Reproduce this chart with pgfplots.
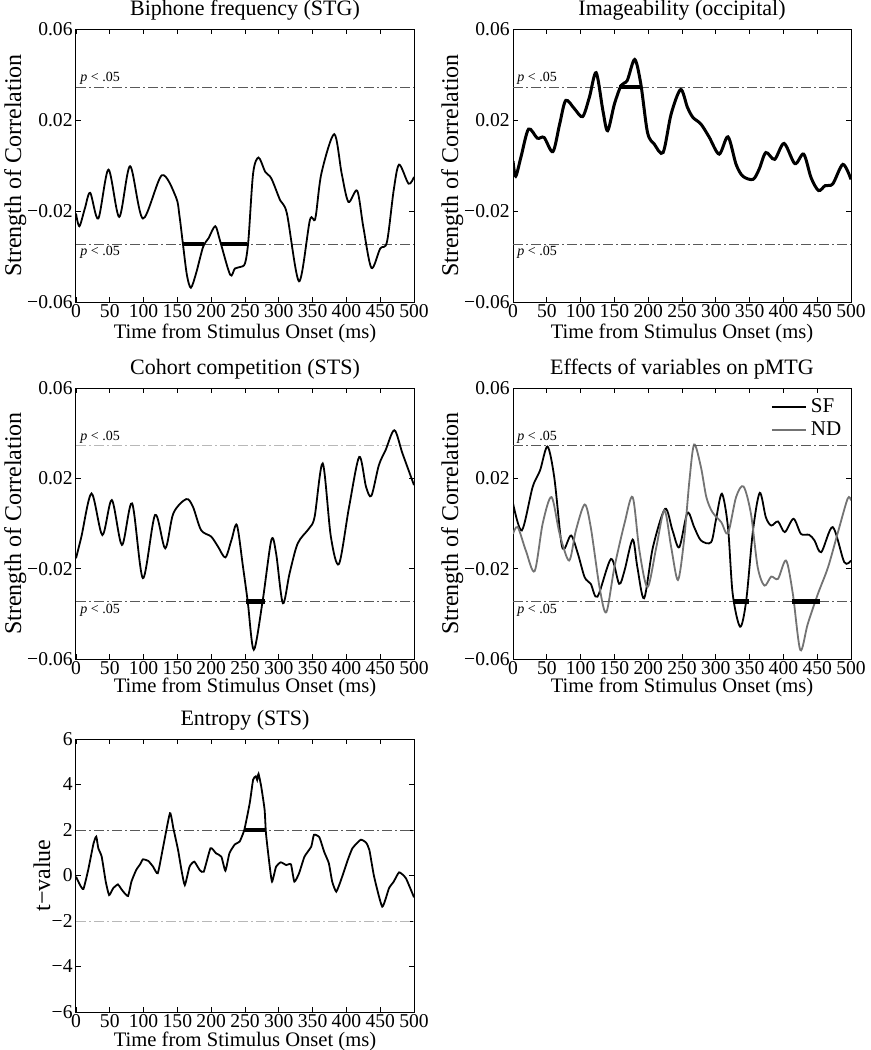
\documentclass[border=0pt]{standalone}
\usepackage{fontspec}
\setmainfont{Liberation Serif}
\usepackage{pgfplots}
\pgfplotsset{compat=1.18}

\definecolor{thrdark}{gray}{0.35}
\definecolor{thrlight}{gray}{0.72}
\definecolor{ndgray}{gray}{0.45}

\pgfplotsset{
  every axis title shift=0pt,
  panel/.style={
    scale only axis, width=169pt, height=136.5pt,
    xmin=0, xmax=500, ymin=-0.06, ymax=0.06,
    scaled y ticks=false, scaled x ticks=false,
    xtick={0,50,...,500},
    xticklabels={0,50,100,150,200,250,300,350,400,450,500},
    ytick={-0.06,-0.02,0.02,0.06},
    yticklabels={−0.06,−0.02,0.02,0.06},
    tick align=inside, major tick length=2.5pt,
    tick style={black, line width=0.4pt},
    axis line style={line width=0.5pt},
    ticklabel style={font=\fontsize{9.8}{11}\selectfont},
    xticklabel style={inner sep=1pt},
    yticklabel style={inner sep=1.5pt},
    title style={font=\fontsize{11}{12}\selectfont, at={(axis description cs:0.5,1.07)}, anchor=center, yshift=0pt},
    xlabel={Time from Stimulus Onset (ms)},
    ylabel={Strength of Correlation},
    xlabel style={font=\fontsize{10.3}{12}\selectfont, at={(axis description cs:0.5,-0.1136)}, anchor=center},
    ylabel style={font=\fontsize{12}{13}\selectfont, at={(axis description cs:-0.18,0.5)}, anchor=center},
  },
  thr/.style={forget plot, line width=0.5pt, dash pattern=on 5pt off 1.6pt on 0.8pt off 1.6pt},
  sig/.style={forget plot, line width=2.2pt, black},
  curve/.style={black, line width=0.9pt, smooth, tension=0.5},
}
\newcommand{\plabels}{%
  \node[font=\fontsize{7}{8}\selectfont, anchor=south west, inner sep=1pt, xshift=1pt] at (axis cs:0,0.0345) {\textit{p} < .05};
  \node[font=\fontsize{7}{8}\selectfont, anchor=north west, inner sep=1pt, xshift=1pt] at (axis cs:0,-0.0345) {\textit{p} < .05};
}

\begin{document}
\begin{tikzpicture}
\useasboundingbox (0,0) rectangle (435.5pt,-525pt);

% ---- Biphone frequency
\begin{axis}[panel, at={(38pt,-14.5pt)}, anchor=north west, title={Biphone frequency (STG)}]
\addplot[thr, thrdark] coordinates {(0,0.0345) (500,0.0345)};
\addplot[thr, thrdark] coordinates {(0,-0.0345) (500,-0.0345)};
\addplot[curve] coordinates {
(0,-0.0211) (5,-0.0267) (13,-0.019) (21,-0.012) (33,-0.0233) (48,-0.0018) (64,-0.0226) (80,-0.0003)
(99,-0.0233) (127,-0.0043) (148,-0.014) (153,-0.022) (158,-0.034) (164,-0.048) (170,-0.0537) (178,-0.047)
(188,-0.0358) (196,-0.032) (206,-0.0267) (213,-0.033) (228,-0.048) (235,-0.0453) (243,-0.0446) (250,-0.043)
(255,-0.033) (262,-0.0035) (270,0.0035) (280,-0.0028) (289,-0.0057) (302,-0.0153) (312,-0.0211) (330,-0.0509)
(346,-0.024) (354,-0.0233) (363,-0.0035) (382,0.0138) (393,-0.0035) (403,-0.016) (416,-0.0111) (425,-0.027)
(437,-0.045) (450,-0.0365) (460,-0.0336) (470,-0.0108) (478,0.0004) (492,-0.008) (500,-0.005)};
\addplot[sig] coordinates {(158,-0.0345) (189,-0.0345)};
\addplot[sig] coordinates {(214,-0.0345) (253,-0.0345)};
\plabels
\end{axis}

% ---- Imageability
\begin{axis}[panel, at={(256.5pt,-14.5pt)}, anchor=north west, title={Imageability (occipital)}]
\addplot[thr, thrdark] coordinates {(0,0.0345) (500,0.0345)};
\addplot[thr, thrdark] coordinates {(0,-0.0345) (500,-0.0345)};
\addplot[curve, line width=1.5pt] coordinates {
(0,0.002) (4,-0.0047) (12,0.004) (23,0.016) (36,0.012) (46,0.0123) (59,0.0061) (69,0.0182) (78,0.0286)
(91,0.0249) (103,0.0215) (113,0.030) (123,0.0408) (133,0.0241) (140,0.0153) (150,0.027) (160,0.0352)
(169,0.0374) (180,0.0466) (189,0.036) (199,0.0145) (209,0.0094) (222,0.0057) (234,0.0227) (248,0.0334)
(258,0.0256) (266,0.0212) (278,0.0182) (290,0.0126) (305,0.005) (318,0.0126) (330,0.0005) (340,-0.0047)
(355,-0.0061) (364,-0.0017) (374,0.0057) (387,0.0027) (401,0.0097) (417,0.0008) (430,0.005) (441,-0.0054)
(452,-0.011) (462,-0.0088) (473,-0.0081) (488,0.0005) (500,-0.0061)};
\addplot[sig] coordinates {(157,0.0345) (189,0.0345)};
\plabels
\end{axis}

% ---- Cohort competition
\begin{axis}[panel, at={(38pt,-194pt)}, anchor=north west, height=135.5pt, title={Cohort competition (STS)},
  xlabel style={at={(axis description cs:0.5,-0.106)}}]
\addplot[thr, thrlight] coordinates {(0,0.0345) (500,0.0345)};
\addplot[thr, thrdark] coordinates {(0,-0.0345) (500,-0.0345)};
\addplot[curve] coordinates {
(0,-0.0154) (8,-0.0058) (23,0.0133) (39,-0.0051) (53,0.0104) (68,-0.0095) (83,0.0089) (99,-0.0242)
(117,0.0038) (132,-0.011) (144,0.0045) (163,0.0108) (173,0.0074) (185,-0.0029) (200,-0.0058) (210,-0.0102)
(221,-0.015) (230,-0.0073) (238,-0.0007) (247,-0.0191) (254,-0.0345) (263,-0.0559) (276,-0.0345)
(289,-0.0073) (296,-0.0132) (306,-0.0353) (316,-0.022) (328,-0.0088) (345,-0.0021) (353,0.003)
(365,0.0266) (377,-0.0058) (389,-0.0179) (404,0.0074) (419,0.0295) (429,0.0163) (437,0.0123) (448,0.0258)
(458,0.0325) (471,0.0413) (483,0.031) (500,0.017)};
\addplot[sig] coordinates {(252,-0.0345) (279,-0.0345)};
\plabels
\end{axis}

% ---- pMTG
\begin{axis}[panel, at={(256.5pt,-194pt)}, anchor=north west, height=135.5pt, title={Effects of variables on pMTG},
  xlabel style={at={(axis description cs:0.5,-0.106)}},
  legend style={draw=none, fill=none, at={(0.99,0.985)}, anchor=north east,
    font=\fontsize{10.5}{11}\selectfont, row sep=-1pt, inner sep=1pt},
  legend cell align=left]
\addplot[curve] coordinates {
(0,0.009) (13,-0.0031) (29,0.0161) (40,0.0235) (51,0.0341) (61,0.0205) (71,-0.0075) (76,-0.0112)
(86,-0.0053) (96,-0.0134) (106,-0.0238) (115,-0.0267) (125,-0.0324) (145,-0.0157) (157,-0.0267)
(165,-0.0208) (177,-0.0071) (184,-0.0194) (194,-0.0331) (207,-0.0105) (225,0.0065) (236,-0.0031)
(246,-0.0105) (258,0.0047) (268,-0.0016) (278,-0.0075) (293,-0.0083) (300,0.0013) (309,0.0132)
(318,-0.0016) (325,-0.0312) (336,-0.0457) (345,-0.0341) (355,-0.0031) (365,0.0136) (374,0.0028)
(382,-0.0009) (392,0.0009) (402,-0.0038) (415,0.0021) (426,-0.0046) (438,-0.005) (446,-0.0075)
(456,-0.0127) (473,-0.0016) (490,-0.0171) (500,-0.0164)};
\addlegendentry{SF}
\addplot[curve, ndgray] coordinates {
(0,-0.0046) (7,-0.0016) (19,-0.012) (32,-0.0211) (44,0.0001) (57,0.0117) (69,-0.0046) (83,-0.0164)
(93,-0.0031) (106,0.0084) (115,-0.0016) (128,-0.0282) (138,-0.0393) (150,-0.0194) (165,0.0001)
(177,0.0117) (187,-0.012) (199,-0.0282) (212,-0.0105) (224,0.0058) (234,-0.0105) (244,-0.025)
(253,-0.0075) (261,0.0191) (268,0.035) (278,0.025) (286,0.0117) (295,0.005) (308,0.0006) (318,-0.0043)
(330,0.0117) (341,0.0164) (352,0.0043) (362,-0.0194) (372,-0.0275) (382,-0.0235) (392,-0.0245)
(404,-0.0164) (414,-0.0312) (425,-0.056) (436,-0.0445) (451,-0.0312) (466,-0.0194) (480,-0.0046)
(495,0.011) (500,0.0102)};
\addlegendentry{ND}
\addplot[thr, thrdark] coordinates {(0,0.0345) (500,0.0345)};
\addplot[thr, thrdark] coordinates {(0,-0.0345) (500,-0.0345)};
\addplot[sig] coordinates {(325,-0.0345) (349,-0.0345)};
\addplot[sig] coordinates {(412,-0.0345) (454,-0.0345)};
\plabels
\end{axis}

% ---- Entropy
\begin{axis}[panel, at={(38pt,-369.5pt)}, anchor=north west, title={Entropy (STS)},
  ymin=-6, ymax=6, ytick={-6,-4,-2,0,2,4,6}, yticklabels={−6,−4,−2,0,2,4,6},
  ylabel={t−value}, ylabel style={at={(axis description cs:-0.1006,0.5)}},
  xlabel style={at={(axis description cs:0.5,-0.106)}}]
\addplot[thr, thrdark] coordinates {(0,2) (500,2)};
\addplot[thr, thrlight] coordinates {(0,-2) (500,-2)};
\addplot[black, line width=0.9pt, smooth, tension=0.3] coordinates {
(0,-0.05) (6,-0.42) (11,-0.59) (18,0.24) (26,1.42) (30,1.71) (33,1.2) (38,0.83) (44,-0.27) (49,-0.86)
(55,-0.56) (62,-0.39) (66,-0.55) (70,-0.71) (77,-0.9) (82,-0.27) (89,0.24) (95,0.5) (99,0.71) (107,0.64)
(114,0.39) (121,0.1) (129,1.27) (139,2.74) (144,2.08) (151,1.12) (156,0.24) (161,-0.42) (168,0.39)
(175,0.61) (183,0.24) (189,0.17) (199,1.2) (207,0.98) (215,0.83) (221,0.21) (227,0.98) (235,1.37)
(242,1.49) (249,2.01) (257,3.18) (262,4.21) (266,4.36) (268,4.2) (270,4.47) (274,3.91) (279,2.89)
(281,1.86) (286,0.54) (290,-0.27) (296,0.39) (303,0.58) (311,0.46) (318,0.49) (323,-0.27) (330,0.1)
(338,0.83) (348,1.27) (352,1.79) (360,1.68) (367,1.05) (374,0.54) (379,-0.27) (385,-0.71) (392,-0.2)
(402,0.68) (409,1.2) (421,1.57) (429,1.45) (434,1.12) (441,-0.05) (453,-1.37) (463,-0.56) (470,-0.27)
(478,0.14) (488,-0.12) (500,-0.96)};
\addplot[sig] coordinates {(249,2) (281,2)};
\end{axis}
\end{tikzpicture}
\end{document}
